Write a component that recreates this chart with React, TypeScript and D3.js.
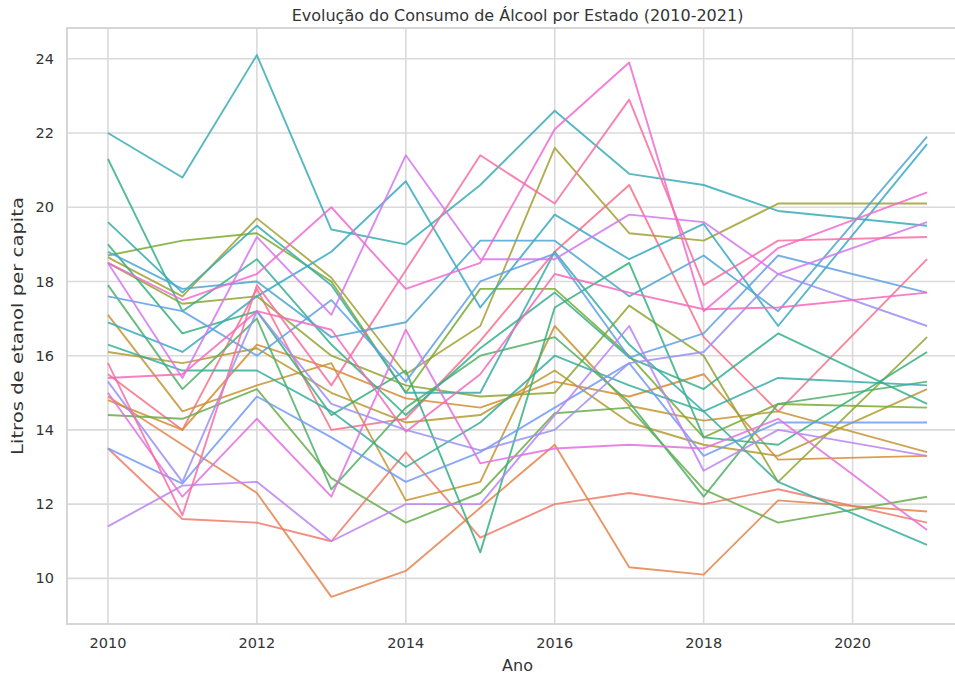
import React from "react";
import * as d3 from "d3";

// anos com dado (2020 ausente na série)
const years = [2010, 2011, 2012, 2013, 2014, 2015, 2016, 2017, 2018, 2019, 2021];
const xTicks = [2010, 2012, 2014, 2016, 2018, 2020];
const yTicks = [10, 12, 14, 16, 18, 20, 22, 24];

// litros de etanol per capita por estado
const AC = [15.5, 14.0, 17.8, 14.0, 14.3, 16.4, 18.8, 20.6, 16.5, 14.5, 18.6];
const AL = [13.5, 11.6, 11.5, 11.0, 13.4, 11.1, 12.0, 12.3, 12.0, 12.4, 11.5];
const AM = [14.9, 13.6, 12.3, 9.5, 10.2, 11.9, 13.6, 10.3, 10.1, 12.1, 11.8];
const AP = [14.8, 14.0, 16.3, 15.65, 14.85, 14.6, 15.3, 14.9, 15.5, 13.2, 13.3];
const BA = [17.1, 14.5, 15.2, 15.8, 12.1, 12.6, 16.8, 14.65, 14.25, 14.5, 13.4];
const CE = [16.1, 15.8, 16.2, 15.0, 14.2, 14.4, 15.6, 14.2, 13.6, 13.3, 15.1];
const DF = [18.65, 17.6, 19.7, 18.1, 15.5, 16.8, 21.6, 19.3, 19.1, 20.1, 20.1];
const ES = [18.5, 17.4, 17.6, 16.0, 15.2, 14.9, 15.0, 17.35, 16.0, 12.6, 16.5];
const GO = [18.7, 19.1, 19.3, 18.0, 15.0, 17.8, 17.8, 16.0, 13.8, 14.7, 14.6];
const MA = [14.4, 14.3, 15.1, 12.7, 11.5, 12.3, 14.45, 14.6, 12.4, 11.5, 12.2];
const MG = [17.9, 15.1, 17.0, 12.4, 14.6, 16.0, 16.5, 14.75, 12.2, 14.7, 15.3];
const MS = [19.0, 16.6, 17.2, 14.4, 15.6, 10.7, 17.3, 18.5, 13.8, 13.6, 16.1];
const MT = [21.3, 17.2, 18.6, 16.3, 14.4, 16.2, 17.7, 15.95, 15.1, 16.6, 14.7];
const PA = [16.3, 15.6, 15.6, 14.5, 13.0, 14.2, 16.0, 15.2, 14.5, 12.6, 10.9];
const PB = [19.6, 17.7, 19.5, 17.9, 15.0, 15.0, 18.8, 16.3, 14.5, 15.4, 15.2];
const PE = [22.0, 20.8, 24.1, 19.4, 19.0, 20.6, 22.6, 20.9, 20.6, 19.9, 19.5];
const PI = [16.9, 16.1, 17.6, 18.8, 20.7, 17.3, 19.8, 18.6, 19.55, 16.8, 21.7];
const PR = [18.8, 17.8, 18.0, 16.5, 16.9, 19.1, 19.1, 17.6, 18.7, 17.2, 21.9];
const RJ = [17.6, 17.2, 16.0, 17.5, 15.3, 18.0, 18.75, 15.95, 16.6, 18.7, 17.7];
const RN = [13.5, 12.55, 14.9, 13.8, 12.6, 13.4, 14.6, 15.8, 13.3, 14.2, 14.2];
const RO = [15.3, 12.6, 17.2, 14.7, 14.0, 13.45, 14.0, 15.8, 16.1, 18.2, 16.8];
const RR = [11.4, 12.5, 12.6, 11.0, 12.0, 12.0, 14.4, 16.8, 12.9, 14.0, 13.3];
const RS = [18.5, 15.4, 19.2, 17.1, 21.4, 18.6, 18.6, 19.8, 19.6, 18.2, 19.6];
const SC = [15.0, 12.2, 14.3, 12.2, 16.7, 13.1, 13.5, 13.6, 13.5, 14.3, 11.3];
const SE = [18.5, 17.5, 18.2, 20.0, 17.8, 18.5, 22.1, 23.9, 17.2, 18.9, 20.4];
const SP = [15.4, 15.5, 17.2, 16.7, 13.95, 15.5, 18.2, 17.7, 17.25, 17.3, 17.7];
const TO = [15.8, 11.7, 17.9, 15.2, 18.3, 21.4, 20.1, 22.9, 17.9, 19.1, 19.2];

const states = ["AC", "AL", "AM", "AP", "BA", "CE", "DF", "ES", "GO", "MA", "MG", "MS", "MT", "PA",
  "PB", "PE", "PI", "PR", "RJ", "RN", "RO", "RR", "RS", "SC", "SE", "SP", "TO"];
const values = [AC, AL, AM, AP, BA, CE, DF, ES, GO, MA, MG, MS, MT, PA,
  PB, PE, PI, PR, RJ, RN, RO, RR, RS, SC, SE, SP, TO];

// paleta husl do seaborn (10 tons) esticada para 27 estados
const husl10 = ["#f77189", "#dc8932", "#ae9d31", "#77ab31", "#33b07a", "#36ada4", "#38a9c5", "#6e9bf4", "#cc7af4", "#f565cc"];
const colorAt = (i: number) => {
  const t = (i * husl10.length) / states.length;
  const j = Math.floor(t);
  return d3.interpolateLab(husl10[j], husl10[(j + 1) % husl10.length])(t - j);
};

const W = 955;
const H = 679;
const left = 67;
const right = 968;
const top = 28;
const bottom = 624;
const font = "'DejaVu Sans', sans-serif";
const ink = "#333";
const gridColor = "#dadada";

export default function App() {
  const x = d3.scaleLinear().domain([2009.45, 2021.55]).range([left, right]);
  const y = d3.scaleLinear().domain([8.77, 24.83]).range([bottom, top]);

  const line = d3.line<number>()
    .x((_, i) => x(years[i]))
    .y((d) => y(d));

  return (
    <svg width={W} height={H} style={{ position: "absolute", left: 0, top: 0, background: "#fff" }} fontFamily={font}>
      <g>
        {xTicks.map((t) => (
          <line key={`gx${t}`} x1={x(t)} x2={x(t)} y1={top} y2={bottom} stroke={gridColor} strokeWidth={1.6} />
        ))}
        {yTicks.map((t) => (
          <line key={`gy${t}`} x1={left} x2={right} y1={y(t)} y2={y(t)} stroke={gridColor} strokeWidth={1.6} />
        ))}
      </g>
      <rect x={left} y={top} width={right - left} height={bottom - top} fill="none" stroke="#d2d2d2" strokeWidth={1.8} />

      <g>
        {values.map((v, i) => (
          <path key={states[i]} d={line(v) ?? ""} fill="none" stroke={colorAt(i)} strokeWidth={1.9}
            strokeOpacity={0.85} strokeLinejoin="round" />
        ))}
      </g>

      <g fontSize={14.5} fill={ink}>
        {xTicks.map((t) => (
          <text key={`tx${t}`} x={x(t)} y={bottom + 24} textAnchor="middle">{t}</text>
        ))}
        {yTicks.map((t) => (
          <text key={`ty${t}`} x={left - 13} y={y(t)} dy="0.35em" textAnchor="end">{t}</text>
        ))}
      </g>

      <text x={(left + right) / 2} y={bottom + 47} textAnchor="middle" fontSize={16} fill={ink}>Ano</text>
      <text transform={`translate(23,${(top + bottom) / 2}) rotate(-90)`} textAnchor="middle" fontSize={16.5} fill={ink}
        textLength={258} lengthAdjust="spacingAndGlyphs">
        Litros de etanol per capita
      </text>
      <text x={(left + right) / 2} y={21} textAnchor="middle" fontSize={16} fill={ink}>
        Evolução do Consumo de Álcool por Estado (2010-2021)
      </text>
    </svg>
  );
}
